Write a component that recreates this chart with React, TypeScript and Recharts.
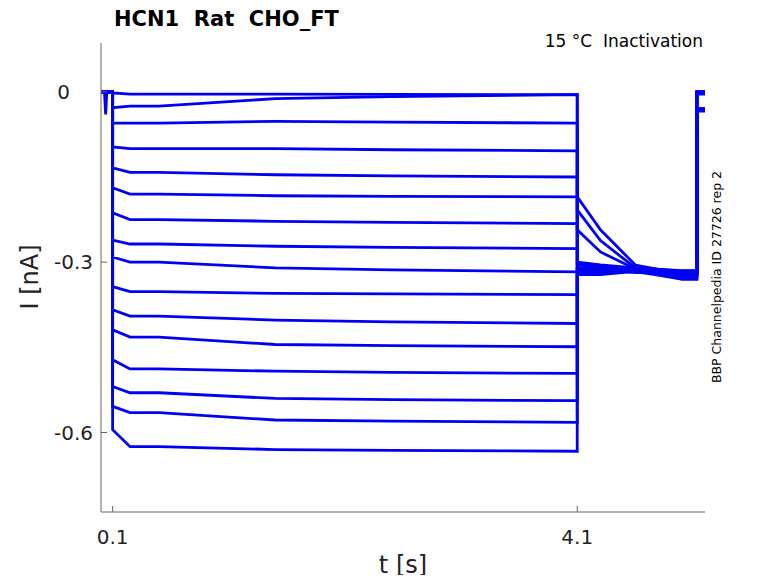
import { LineChart, Line, XAxis, YAxis } from 'recharts';

// sweep time points (s)
const times = [0, 0.03, 0.04, 0.05, 0.1, 0.1001, 0.25, 0.5, 1.5, 2.5, 4.1, 4.1001, 4.3, 4.6, 5.0, 5.13, 5.1301, 5.2];

// per-sweep current levels (nA)
const stepStart = [-0.002, -0.028, -0.055, -0.097, -0.134, -0.169, -0.213, -0.261, -0.291, -0.343, -0.384, -0.419, -0.472, -0.519, -0.554, -0.595];
const stepMid = [-0.004, -0.025, -0.055, -0.100, -0.142, -0.180, -0.225, -0.268, -0.300, -0.352, -0.395, -0.432, -0.488, -0.530, -0.565, -0.625];
const stepLate = [-0.004, -0.012, -0.052, -0.100, -0.146, -0.183, -0.228, -0.272, -0.310, -0.355, -0.402, -0.445, -0.492, -0.540, -0.578, -0.630];
const stepEnd = [-0.005, -0.005, -0.055, -0.104, -0.150, -0.185, -0.232, -0.276, -0.317, -0.357, -0.408, -0.449, -0.496, -0.544, -0.582, -0.633];
const tailStart = [-0.185, -0.208, -0.243, -0.300, -0.305, -0.310, -0.312, -0.314, -0.316, -0.318, -0.310, -0.312, -0.315, -0.318, -0.320, -0.322];
const tail43 = [-0.243, -0.262, -0.282, -0.305, -0.308, -0.31, -0.312, -0.314, -0.316, -0.318, -0.31, -0.312, -0.315, -0.318, -0.32, -0.322];
const tail46 = [-0.305, -0.31, -0.312, -0.31, -0.312, -0.314, -0.316, -0.318, -0.312, -0.314, -0.316, -0.318, -0.31, -0.312, -0.314, -0.316];
const tail50 = [-0.32, -0.325, -0.33, -0.315, -0.318, -0.32, -0.322, -0.318, -0.316, -0.318, -0.32, -0.322, -0.316, -0.318, -0.325, -0.33];
const finalLevel = [0, 0, 0, 0, 0, -0.002, -0.002, -0.004, -0.03, -0.03, -0.032, -0.03, -0.032, -0.034, -0.03, -0.032];
const preSpike = -0.04;

const yTicks = [0, -0.3, -0.6];
const xTicks = [0.1, 4.1];

const sweeps = stepStart.map((_, i) => {
  const vals = [0, 0, i === 0 ? preSpike : 0, 0, 0, stepStart[i], stepMid[i], stepMid[i], stepLate[i], (stepLate[i] + stepEnd[i]) / 2, stepEnd[i], tailStart[i], tail43[i], tail46[i], tail50[i], tail50[i], finalLevel[i], finalLevel[i]];
  return times.map((t, k) => ({ t, v: vals[k] }));
});

const font = 'DejaVu Sans, sans-serif';

const XTick = (p: any) => (
  <g>
    <line x1={p.x} x2={p.x} y1={512} y2={506} stroke="#666" />
    <text x={p.x} y={544} textAnchor="middle" fontSize={20} fill="#222" fontFamily={font}>{p.payload.value}</text>
  </g>
);

const YTick = (p: any) => (
  <g>
    <line x1={101} x2={107} y1={p.y} y2={p.y} stroke="#666" />
    <text x={p.payload.value === 0 ? 70 : 93} y={p.y + 7} textAnchor="end" fontSize={20} fill="#222" fontFamily={font}>{p.payload.value === 0 ? '0' : p.payload.value.toFixed(1)}</text>
  </g>
);

export default function App() {
  return (
    <div style={{ margin: -8, width: 778, height: 583, position: 'relative', background: '#fff', fontFamily: font }}>
      <LineChart width={778} height={583} margin={{ top: 43, right: 73, left: 41, bottom: 41 }}>
        <XAxis type="number" dataKey="t" domain={[0, 5.2]} ticks={xTicks} height={30} allowDuplicatedCategory={false} stroke="#666" tick={<XTick />} tickLine={false} />
        <YAxis type="number" domain={[-0.74, 0.086]} ticks={yTicks} width={60} stroke="#666" tick={<YTick />} tickLine={false} />
        {sweeps.map((d, i) => (
          <Line key={i} data={d} dataKey="v" type="linear" stroke="#0000f5" strokeWidth={2.8} dot={false} isAnimationActive={false} />
        ))}
        <text x={114} y={26} fontSize={21} fontWeight="bold" fill="#000" fontFamily={font} style={{ whiteSpace: 'pre' }}>HCN1  Rat  CHO_FT</text>
        <text x={703} y={47} textAnchor="end" fontSize={17} fill="#000" fontFamily={font} style={{ whiteSpace: 'pre' }}>15 °C  Inactivation</text>
        <text x={721} y={277} textAnchor="middle" fontSize={12.5} fill="#000" fontFamily={font} transform="rotate(-90 721 277)">BBP Channelpedia ID 27726 rep 2</text>
        <text x={38} y={277} textAnchor="middle" fontSize={24} fill="#222" fontFamily={font} transform="rotate(-90 38 277)">I [nA]</text>
        <text x={403} y={573} textAnchor="middle" fontSize={24} fill="#222" fontFamily={font}>t [s]</text>
      </LineChart>
    </div>
  );
}
